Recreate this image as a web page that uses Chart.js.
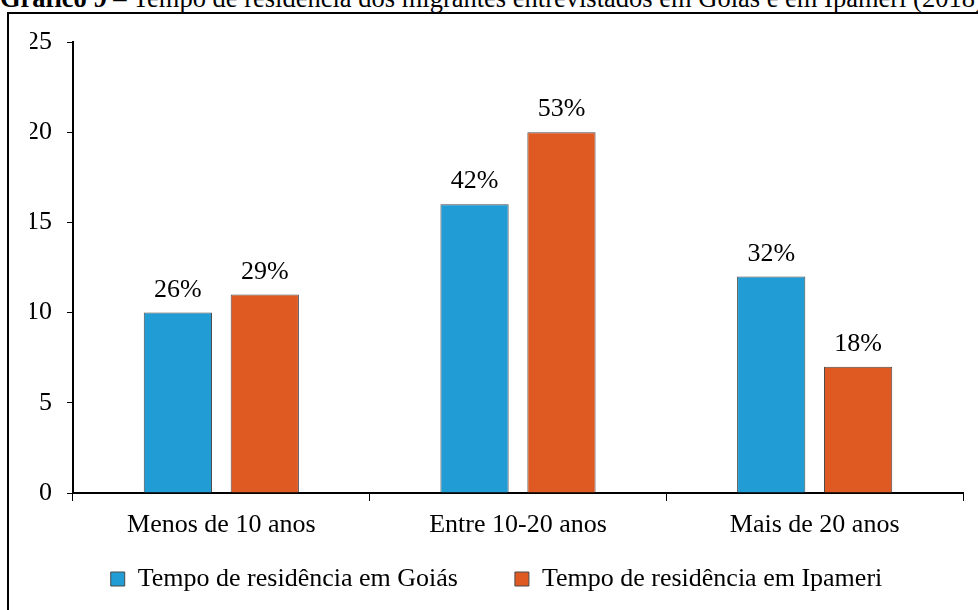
<!DOCTYPE html>
<html>
<head>
<meta charset="utf-8">
<script src="https://cdn.jsdelivr.net/npm/chart.js@4"></script>
<style>
  html, body { margin: 0; padding: 0; width: 978px; height: 610px; overflow: hidden; background: #fff; }
  #title { position: absolute; left: 0; top: -17px; font-family: "Liberation Serif", "Times New Roman", serif; font-size: 26.5px; white-space: nowrap; color: #000; }
  #frame { position: absolute; left: 7px; top: 12px; width: 1000px; height: 620px; border: 2px solid #000; box-sizing: border-box; }
  #wrap { position: absolute; left: 0; top: 18px; width: 978px; height: 592px; }
</style>
</head>
<body>
<div id="title"><b>Gráfico 9</b> – Tempo de residência dos migrantes entrevistados em Goiás e em Ipameri (2018)</div>
<div id="frame"></div>
<div id="wrap"><canvas id="c"></canvas></div>
<script>
const categories = ["Menos de 10 anos", "Entre 10-20 anos", "Mais de 20 anos"];
const goiasValues = [10, 16, 12];
const ipameriValues = [11, 20, 7];
const goiasLabels = ["26%", "42%", "32%"];
const ipameriLabels = ["29%", "53%", "18%"];
const seriesNames = ["Tempo de residência em Goiás", "Tempo de residência em Ipameri"];

const FONT = '"Liberation Serif", "Times New Roman", serif';

const labelPlugin = {
  id: 'barLabels',
  afterDatasetsDraw(chart) {
    const ctx = chart.ctx;
    ctx.save();
    ctx.font = '26px ' + FONT;
    ctx.fillStyle = '#000';
    ctx.textAlign = 'center';
    ctx.textBaseline = 'alphabetic';
    chart.data.datasets.forEach((ds, i) => {
      const meta = chart.getDatasetMeta(i);
      meta.data.forEach((bar, j) => {
        ctx.fillText(ds.pctLabels[j], bar.x, bar.y - 16);
      });
    });
    ctx.restore();
  }
};

// lift the legend closer to the axis labels (wide item spacing needs a large padding)
const legendLift = {
  id: 'legendLift',
  afterLayout(chart) {
    const lg = chart.legend;
    if (lg) { lg.top -= 27; lg.bottom -= 27; }
  }
};

new Chart(document.getElementById('c'), {
  type: 'bar',
  data: {
    labels: categories,
    datasets: [
      { label: seriesNames[0], data: goiasValues, pctLabels: goiasLabels,
        backgroundColor: '#229CD4', borderColor: '#4a4a4a', borderWidth: 1 },
      { label: seriesNames[1], data: ipameriValues, pctLabels: ipameriLabels,
        backgroundColor: '#DF5A23', borderColor: '#4a4a4a', borderWidth: 1 }
    ]
  },
  options: {
    responsive: true,
    maintainAspectRatio: false,
    animation: false,
    devicePixelRatio: 1,
    layout: { padding: { top: 24, right: 15, left: 30, bottom: -19 } },
    datasets: { bar: { categoryPercentage: 0.586, barPercentage: 0.785 } },
    scales: {
      x: {
        afterFit(scale) { scale.height = 43; },
        grid: { display: true, drawOnChartArea: false, drawTicks: true, tickLength: 8, color: '#000', offset: true },
        border: { display: true, color: '#000', width: 2 },
        ticks: { color: '#000', font: { family: FONT, size: 26 }, padding: 9, maxRotation: 0 }
      },
      y: {
        min: 0, max: 25,
        afterFit(scale) { scale.width = 43; scale.paddingTop = 0; scale.paddingBottom = 0; },
        grid: { display: true, drawOnChartArea: false, drawTicks: true, tickLength: 6, color: '#000' },
        border: { display: true, color: '#000', width: 2 },
        ticks: { stepSize: 5, color: '#000', font: { family: FONT, size: 26 }, padding: 15 }
      }
    },
    plugins: {
      legend: {
        position: 'bottom',
        labels: { color: '#000', font: { family: FONT, size: 26 }, boxWidth: 14, boxHeight: 14, padding: 57 }
      },
      tooltip: { enabled: false },
      title: { display: false }
    }
  },
  plugins: [labelPlugin, legendLift]
});
</script>
</body>
</html>
